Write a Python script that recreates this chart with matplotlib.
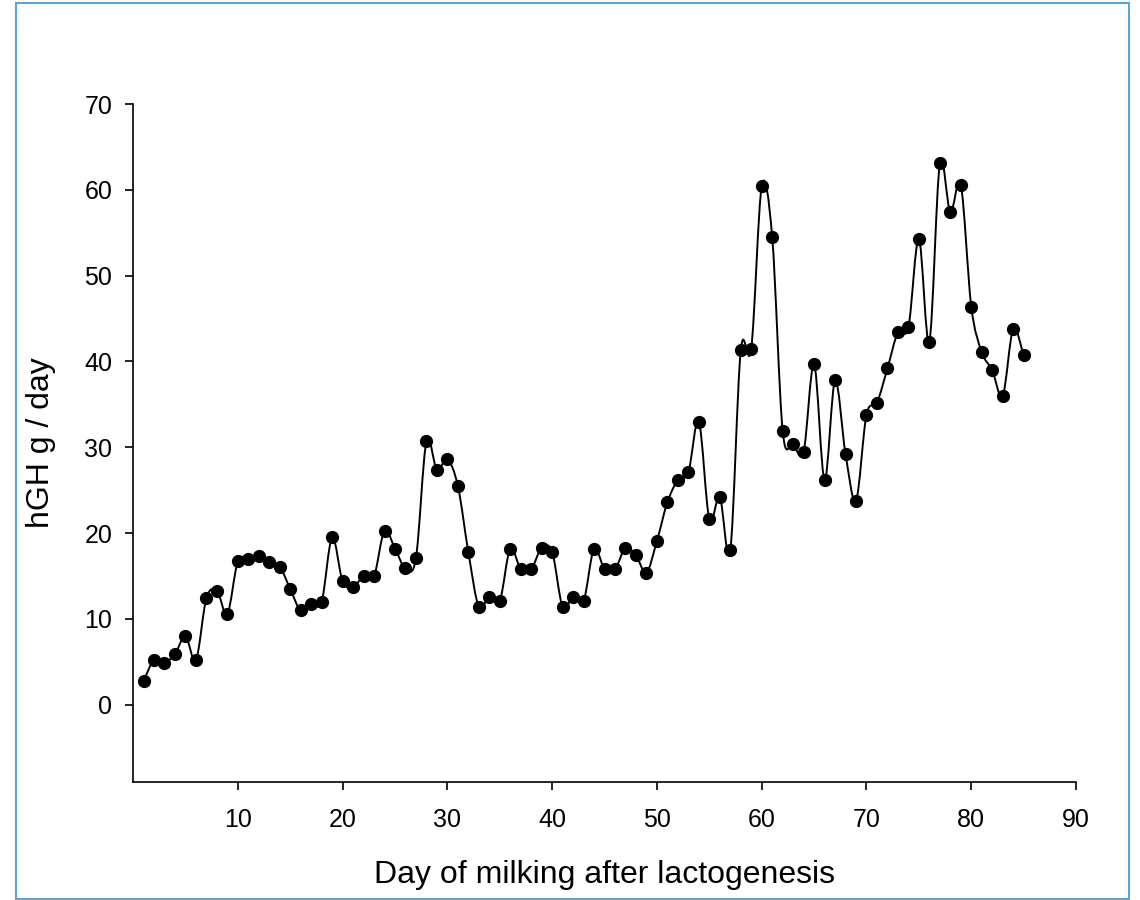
import matplotlib.pyplot as plt
import numpy as np
from matplotlib.path import Path
from matplotlib.patches import PathPatch, Rectangle

plt.rcParams["font.family"] = ["Liberation Sans", "DejaVu Sans"]

# dag efter laktogenes och hGH (g/dag)
days = list(range(1, 86))
hgh = [2.8, 5.2, 4.9, 5.9, 8.0, 5.2, 12.4, 13.3, 10.6, 16.7,
       17.0, 17.3, 16.6, 16.1, 13.5, 11.0, 11.8, 12.0, 19.5, 14.4,
       13.7, 15.0, 15.0, 20.3, 18.2, 15.9, 17.1, 30.7, 27.4, 28.6,
       25.5, 17.8, 11.4, 12.6, 12.1, 18.2, 15.8, 15.8, 18.3, 17.8,
       11.4, 12.6, 12.1, 18.2, 15.8, 15.8, 18.3, 17.4, 15.4, 19.1,
       23.6, 26.2, 27.1, 33.0, 21.6, 24.2, 18.0, 41.3, 41.5, 60.4,
       54.5, 31.9, 30.4, 29.5, 39.7, 26.2, 37.8, 29.2, 23.8, 33.8,
       35.2, 39.2, 43.4, 44.0, 54.3, 42.3, 63.1, 57.4, 60.6, 46.4,
       41.1, 39.0, 36.0, 43.8, 40.8]
x_ticks = [10, 20, 30, 40, 50, 60, 70, 80, 90]
y_ticks = [0, 10, 20, 30, 40, 50, 60, 70]


def smooth_path(x, y):
    # Catmull-Rom -> kubiska Bezier-segment, ritas av matplotlib
    x = np.asarray(x, float)
    y = np.asarray(y, float)
    dx = np.gradient(x)
    dy = np.gradient(y)
    verts = [(x[0], y[0])]
    codes = [Path.MOVETO]
    for i in range(len(x) - 1):
        verts += [(x[i] + dx[i] / 3, y[i] + dy[i] / 3),
                  (x[i + 1] - dx[i + 1] / 3, y[i + 1] - dy[i + 1] / 3),
                  (x[i + 1], y[i + 1])]
        codes += [Path.CURVE4] * 3
    return Path(verts, codes)


fig = plt.figure(figsize=(11.4, 9), dpi=100)
ax = fig.add_axes([0.1167, 0.1311, 0.8272, 0.7533])

ax.add_patch(PathPatch(smooth_path(days, hgh), facecolor="none", edgecolor="black", lw=1.4, zorder=2))
ax.plot(days, hgh, "o", color="black", markersize=8.5, zorder=3)

ax.set_xlim(0, 90)
ax.set_ylim(-9, 70)
ax.set_xticks(x_ticks)
ax.set_yticks(y_ticks)
ax.spines["top"].set_visible(False)
ax.spines["right"].set_visible(False)
for s in ["left", "bottom"]:
    ax.spines[s].set_linewidth(1.2)
ax.tick_params(axis="both", direction="out", length=6, width=1.2, labelsize=18)
ax.tick_params(axis="x", pad=13)
ax.tick_params(axis="y", pad=9)

ax.set_xlabel("Day of milking after lactogenesis", fontsize=23, labelpad=20)
ax.set_ylabel("hGH g / day", fontsize=23, labelpad=20)

# blå ram runt hela figuren
fig.patches.append(Rectangle((0.014, 0.001), 0.976, 0.996, transform=fig.transFigure,
                             fill=False, edgecolor="#5ba3dc", lw=1.5))

plt.savefig("out.png", dpi=100)
